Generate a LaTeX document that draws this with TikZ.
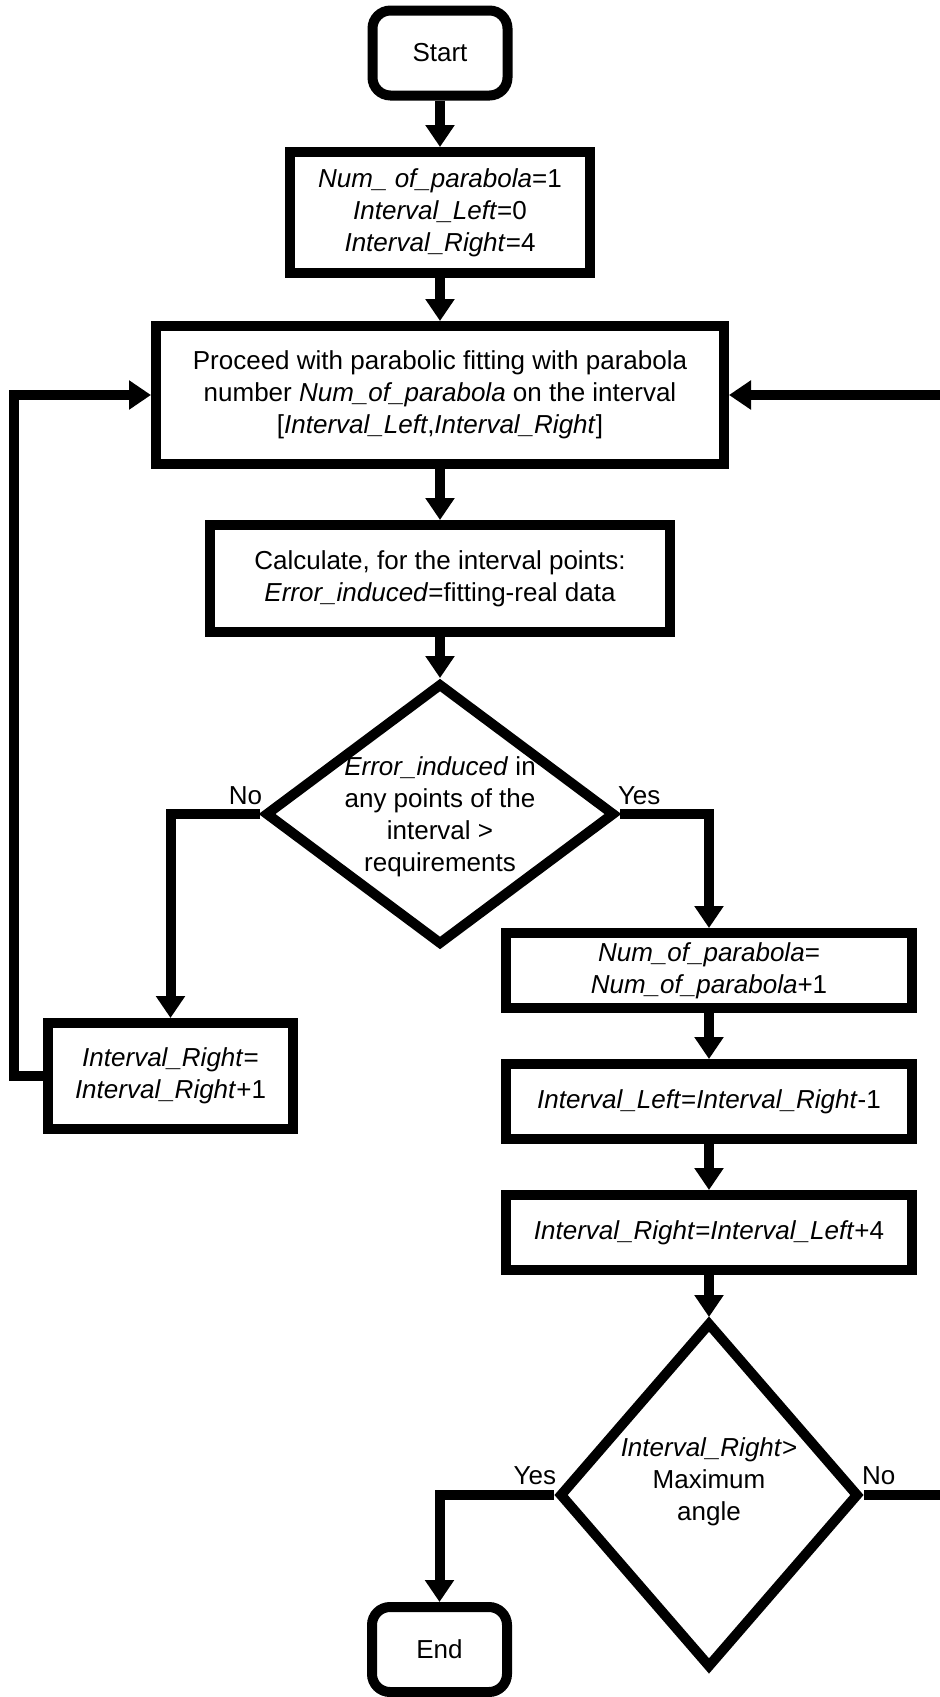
\documentclass[tikz,border=0pt]{standalone}
\usepackage{fontspec}
\setmainfont{Liberation Sans}
\usetikzlibrary{shapes.geometric,arrows.meta}
\begin{document}
\begin{tikzpicture}[x=.5pt,y=-.5pt,line width=5pt,
		every node/.style={font=\fontsize{13}{16}\selectfont},
		blk/.style={draw,rectangle,align=center,inner sep=0pt},
		term/.style={blk,rounded corners=9pt,minimum width=67.5pt,minimum height=42.5pt},
		dec/.style={draw,diamond,inner sep=0pt},
		lbl/.style={inner sep=1pt},
		arr/.style={-{Triangle[length=11pt,width=14pt]}}]
	\useasboundingbox (0,0) rectangle (940,1697);
	\def\mx{440}
	\def\rx{709}
	\node[term] (start) at (\mx,53) {Start};
	\node[blk,minimum width=150pt,minimum height=60.5pt] (init) at (\mx,212.5)
	{\textit{Num\_ of\_parabola}=1\\ \textit{Interval\_Left}=0\\ \textit{Interval\_Right}=4};
	\node[blk,minimum width=284pt,minimum height=69pt] (fit) at (\mx,395)
	{Proceed with parabolic fitting with parabola\\ number \textit{Num\_of\_parabola} on the interval\\ {[}\textit{Interval\_Left},\textit{Interval\_Right}]};
	\node[blk,minimum width=230pt,minimum height=53.5pt] (calc) at (\mx,578.5)
	{Calculate, for the interval points:\\ \textit{Error\_induced}=fitting-real data};
	\node[dec,minimum width=175pt,minimum height=131pt] (d1) at (\mx,814) {};
	\node[align=center] (d1t) at (\mx,817) {\textit{Error\_induced} in\\ any points of the\\ interval >\\ requirements};
	\node[blk,minimum width=122.5pt,minimum height=53pt] (ir) at (170.5,1076)
	{\textit{Interval\_Right}=\\ \textit{Interval\_Right}+1};
	\node[blk,minimum width=203pt,minimum height=37.5pt] (np) at (\rx,970.5)
	{\textit{Num\_of\_parabola}=\\ \textit{Num\_of\_parabola}+1};
	\node[blk,minimum width=203pt,minimum height=37.5pt] (il) at (\rx,1101.5)
	{\textit{Interval\_Left}=\textit{Interval\_Right}-1};
	\node[blk,minimum width=203pt,minimum height=37.5pt] (irl) at (\rx,1232.5)
	{\textit{Interval\_Right}=\textit{Interval\_Left}+4};
	\node[dec,minimum width=150pt,minimum height=173pt] (d2) at (\rx,1495) {};
	\node[align=center] (d2t) at (\rx,1482) {\textit{Interval\_Right}>\\ Maximum\\ angle};
	\node[term] (end) at (439.5,1649.5) {End};
	\node[lbl,anchor=south east] (no1) at ([shift={(4.5pt,1pt)}]d1.west) {No};
	\node[lbl,anchor=south west] (yes1) at ([shift={(-4.5pt,1pt)}]d1.east) {Yes};
	\node[lbl,anchor=south east] (yes2) at ([shift={(4.5pt,1.5pt)}]d2.west) {Yes};
	\node[lbl,anchor=south west] (no2) at ([shift={(-4.5pt,1.5pt)}]d2.east) {No};
	\foreach \a/\b in {start/init,init/fit,fit/calc,calc/d1,np/il,il/irl,irl/d2}
	\draw[arr] (\a.south) -- (\b.north);
	\draw[arr] (d1.east) -| (np.north);
	\draw[arr] (d1.west) -| (ir.north);
	\draw[arr] (d2.west) -| (end.north);
	\draw[arr] (ir.west) -- ++(-29,0) coordinate (lc) |- (fit.west);
	\draw[arr] (d2.east) -- ++(130,0) coordinate (rc) |- (fit.east);
\end{tikzpicture}
\end{document}
